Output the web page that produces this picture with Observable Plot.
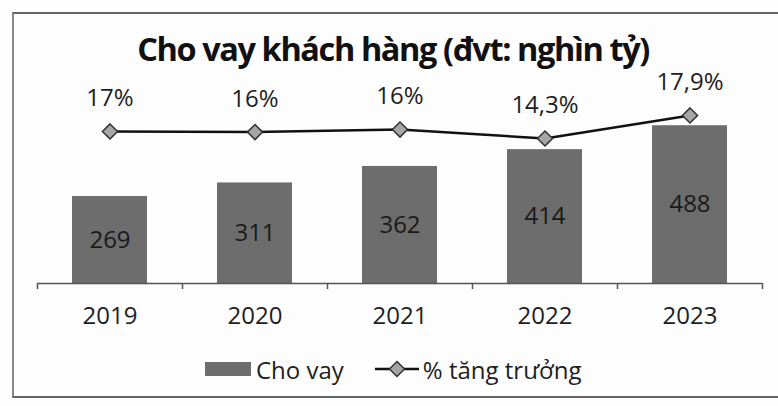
<!DOCTYPE html>
<html>
<head>
<meta charset="utf-8">
<script src="https://cdn.jsdelivr.net/npm/d3@7"></script>
<script src="https://cdn.jsdelivr.net/npm/@observablehq/plot@0.6"></script>
<style>
  html, body { margin: 0; padding: 0; background: #fff; }
  #wrap { position: relative; width: 778px; height: 406px; overflow: hidden; background: #fdfdfd; font-family: "Open Sans", sans-serif; color: #1e1e1e; }
  #frame { position: absolute; left: 12px; top: 12px; width: 800px; height: 386px; border-top: 2px solid #666; border-left: 2px solid #888; border-bottom: 2px solid #666; box-sizing: border-box; }
  #title { position: absolute; left: 0; width: 786px; top: 28px; text-align: center; font-weight: 700; font-size: 32.5px; letter-spacing: -1.4px; line-height: 42px; color: #111; }
  .layer { position: absolute; left: 0; top: 0; }
  #legend { position: absolute; top: 354px; left: 205px; height: 30px; display: flex; align-items: center; font-size: 24px; color: #1e1e1e; }
  #legend .sw { width: 46px; height: 14px; background: #6d6d6d; margin-right: 5px; }
  #legend svg { margin-left: 30px; margin-right: 3px; }
</style>
</head>
<body>
<div id="wrap">
  <div id="frame"></div>
  <div id="title">Cho vay khách hàng (đvt: nghìn tỷ)</div>
  <div id="bars" class="layer"></div>
  <div id="lineLayer" class="layer"></div>
  <div id="legend"></div>
</div>
<script>
const years = ["2019", "2020", "2021", "2022", "2023"];
const loans = [269, 311, 362, 414, 488];
// plotted positions of the growth line
const growth = [15.4, 15.3, 15.7, 14.3, 17.9];
const growthLabels = ["17%", "16%", "16%", "14,3%", "17,9%"];
const seriesNames = ["Cho vay", "% tăng trưởng"];

const W = 778, H = 406;
const mL = 37, mR = 16;
const step = (W - mL - mR) / years.length;

const barData = years.map((y, i) => ({year: y, loan: loans[i]}));
const lineData = years.map((y, i) => ({year: y, g: growth[i], label: growthLabels[i]}));

const xOpts = {type: "band", domain: years, paddingInner: 0.48, paddingOuter: 0.24};

const bars = Plot.plot({
  width: W, height: H,
  marginLeft: mL, marginRight: mR, marginTop: 89, marginBottom: 123,
  style: {background: "transparent", fontFamily: "Open Sans, sans-serif"},
  x: {...xOpts, axis: null},
  y: {domain: [0, 600], axis: null},
  marks: [
    Plot.barY(barData, {x: "year", y: "loan", fill: "#6d6d6d"}),
    Plot.text(barData, {x: "year", y: d => d.loan / 2, text: d => String(d.loan), fontSize: 24, fill: "#1a1a1a"}),
    Plot.ruleY([0], {stroke: "#555", strokeWidth: 1.5}),
    Plot.ruleX(years, {x: d => d, y1: 0, y2: 0, insetBottom: -6, dx: -step / 2, stroke: "#555", strokeWidth: 1.5}),
    Plot.ruleX(years.slice(-1), {x: d => d, y1: 0, y2: 0, insetBottom: -6, dx: step / 2, stroke: "#555", strokeWidth: 1.5}),
    Plot.axisX({tickSize: 0, tickPadding: 23, fontSize: 24, fill: "#1e1e1e", label: null})
  ]
});
document.getElementById("bars").appendChild(bars);

const line = Plot.plot({
  width: W, height: H,
  marginLeft: mL, marginRight: mR, marginTop: 69.6, marginBottom: 176.6,
  style: {background: "transparent", fontFamily: "Open Sans, sans-serif"},
  x: {...xOpts, axis: null},
  y: {domain: [0, 25], axis: null},
  marks: [
    Plot.line(lineData, {x: "year", y: "g", stroke: "#111", strokeWidth: 2.5}),
    Plot.dot(lineData, {x: "year", y: "g", symbol: "diamond2", r: 6.8, fill: "#a6a6a6", stroke: "#333", strokeWidth: 1.5}),
    Plot.text(lineData, {x: "year", y: "g", text: "label", dy: -33, fontSize: 24, fill: "#1e1e1e"})
  ]
});
document.getElementById("lineLayer").appendChild(line);

const lg = document.getElementById("legend");
lg.innerHTML = `<div class="sw"></div><span>${seriesNames[0]}</span>
<svg width="46" height="20" viewBox="0 0 46 20"><line x1="1" y1="10" x2="45" y2="10" stroke="#111" stroke-width="2.5"/><path d="M23,2.5L30.5,10L23,17.5L15.5,10Z" fill="#a6a6a6" stroke="#333" stroke-width="1.5"/></svg><span>${seriesNames[1]}</span>`;
</script>
</body>
</html>
